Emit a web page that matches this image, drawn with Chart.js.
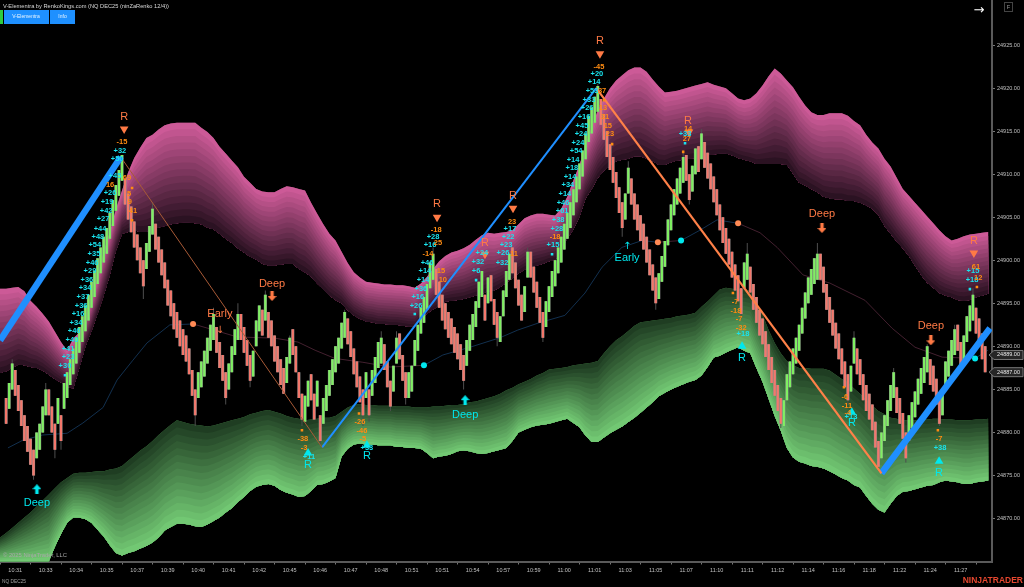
<!DOCTYPE html>
<html><head><meta charset="utf-8">
<style>html,body{margin:0;padding:0;background:#000;overflow:hidden}canvas{display:block}</style>
<script src="https://cdn.jsdelivr.net/npm/chart.js@4"></script>
</head><body><canvas id="c" width="1024" height="587"></canvas>
<script>
// x axis (bar index) tick labels, one every ten bars from bar 5
const timeLabels=["10:31","10:33","10:34","10:35","10:37","10:39","10:40","10:41","10:42","10:45","10:46","10:47","10:48","10:51","10:51","10:54","10:57","10:59","11:00","11:01","11:03","11:05","11:07","11:10","11:11","11:12","11:14","11:16","11:18","11:22","11:24","11:27"];
const priceTicks=[24870,24875,24880,24885,24890,24895,24900,24905,24910,24915,24920,24925];
const lastPrices=[24889,24887];
// Renko closes, first bar is bar 2
const firstBar=2;
const brickPts=3;
const closes=[24881,24885.75,24888,24884.25,24882.5,24880.75,24879,24877.75,24876.25,24875,24880,24881,24883,24885,24882,24880,24878,24884,24879,
24885.75,24887,24888.5,24889.75,24891,24892.25,24893.5,24894.75,24896,24897.5,24898.75,24900.25,24901.5,24902.75,24903.75,24905.5,24907,24908.75,24910.5,24912.25,
24906.5,24904.75,24903.25,24901.5,24900,24898.5,24897,24902,24904,24906,
24901.25,24899.75,24898.25,24896.75,24894.75,24893.5,24892,24891,24890,24889,24888.25,24886.75,24884.25,24882,
24887,24888.25,24889.5,24891,24892.5,24893.75,24889.25,24887.5,24886,24884,24888,24890,24892,24893.75,24890.75,24889.25,24887.75,24886,
24889.5,24893,24894.75,24891.25,24896,24891,24890,24888.25,24887,24885.5,24884.5,24888.75,24891,24889,24887,24884,24881.5,24884.25,24886,24883.75,24881.5,24886,24879,
24884,24885.5,24887.25,24888.5,24890,24891,24892.75,24894,24890.25,24888.75,24886.75,24885.25,24883.5,24882,24887,24882,24887.25,24888.75,24890.5,24891,24887.25,24885.25,24883,24887.75,24891,24888.5,24886,24884,
24887,24887.75,24890.75,24892.5,24894.5,24895.75,24897.25,24899.75,24900.75,24896,24894.5,24893,24892,24891,24890.25,24889.25,24888.5,24887.25,24886,
24890.75,24892.5,24893.75,24895.25,24897.5,24898.75,24893,24898,24895.25,24892.5,24891,24893.5,24896.5,24898.75,24900.75,24898.5,24896.75,24894.75,24893,24897,24901,24898,24896.25,24894.5,24892.75,24891,
24895.25,24897,24898.75,24900,24901.5,24902.75,24904.25,24905.5,24906.75,24908.25,24909.75,24911.25,24912.75,24914.75,24916.75,24917.75,24919,24920.25,
24915.75,24914,24912,24910.5,24909,24907.25,24905.5,24903.75,24907.75,24910.75,24906.5,24904.75,24903.5,24902.25,24901.25,24899.75,24898.25,24896.5,24895,
24898.5,24900.5,24902.25,24904.75,24906.5,24908.25,24909.5,24910.75,24912,24909.25,24907,24911,24913,24910.25,24914.75,
24910.75,24909.5,24908.25,24906.75,24905.25,24903.5,24902,24900.75,24899.5,24898,24896.5,24895.25,24893.75,24899.75,24900.75,
24896.25,24894.25,24892.75,24891.25,24890.25,24888.75,24887.25,24885.75,24884.25,24882.5,24881,
24883.75,24886.75,24888.25,24889.75,24891,24892.5,24894.5,24896.25,24898,24899,24900.25,24900.75,
24897.75,24896.25,24894.25,24892.75,24891.25,24889.75,24888.5,24886.75,24885.25,24883.75,24887.75,24891,
24886.75,24885.5,24883.75,24882.5,24881.5,24880.25,24878.25,24876,24880,24882,24883.75,24885.5,24887,24882.25,24881,24879.25,24877,
24882,24883.5,24884.75,24886.25,24887.5,24888.75,24890,24885.5,24884.75,24883.25,24881,24885,24888.25,24889.5,24890.75,24892,24889.5,24887.5,24891.25,24893.5,24894.75,24896,24891.5,24890.25,24888.5,24887];
// wick tips
const wickBars=[4,11,15,18,20,47,50,64,70,74,78,82,87,95,99,105,113,119,121,125,128,130,133,142,152,163,173,178,196,204,206,215,224,226,230,243,245,256,268,278,280,288,293,297,304,308,313,319];
const wickTips=[24888.5,24874.5,24885.75,24877,24878,24895.5,24906.75,24880.75,24894.5,24883.25,24895,24885.25,24896.5,24891.25,24880.75,24878.5,24894.25,24880.75,24881.25,24891.75,24882.5,24891.75,24883.25,24901.5,24885,24890,24901.5,24890.5,24920.5,24902.75,24911.5,24894.25,24912.75,24906.5,24915.25,24893.25,24902,24880.5,24902,24883.25,24891.75,24875.5,24887.5,24876.5,24890.25,24880.75,24892.5,24896.75];
// bands, one sample every two bars
const upperTop=[24896.7,24896.7,24896.8,24896.9,24896.4,24895.3,24894.6,24893.8,24892.9,24891.7,24890.5,24889.5,24890.9,24891.6,24893.5,24895.4,24898,24901,24903.3,24905.9,24908.1,24910.2,24911.9,24913.1,24914.2,24914.6,24915.2,24915.7,24915.9,24916,24916,24916,24916,24915.4,24914.9,24914.2,24913.2,24912.4,24911.6,24910.8,24909.7,24909,24908.3,24908,24907.9,24907.9,24908.3,24908.6,24908.5,24908.3,24908.1,24906.7,24905.4,24904.2,24903.1,24902.3,24901,24899.7,24898.6,24898,24897.5,24897.4,24897.3,24897.2,24897.2,24897.1,24897.1,24897,24896.8,24897.3,24898.1,24899,24899.9,24900.5,24900.9,24901.1,24901.4,24901.8,24902.4,24902.9,24903.2,24903.1,24903.2,24903.3,24903.5,24904.2,24904.9,24905.2,24905.4,24905.4,24905.3,24905.2,24906,24907.4,24909.3,24911.1,24913.3,24915.5,24917.4,24918.8,24920,24920.9,24921.5,24922.1,24922.4,24922.4,24921.9,24921,24920.2,24919.5,24919.6,24919.7,24919.9,24920.1,24920.3,24920.5,24920.7,24920.4,24920.2,24920,24919.4,24918.8,24918.6,24918.8,24919.4,24920.3,24921.4,24922.3,24921.7,24920.9,24920.1,24919,24918,24917.2,24916.9,24916.9,24917.1,24917.1,24917.1,24916.8,24916.2,24915.7,24914.6,24913.7,24913,24911.8,24910.9,24909.6,24908.3,24907.5,24906.7,24905.9,24905.1,24904.3,24903.5,24902.8,24902.3,24902.5,24902.8,24903,24903.1,24903.2,24903.3];
const upperBottom=[24886.9,24887.1,24887.5,24887.9,24887.8,24887.6,24887.5,24887.2,24886.7,24886.2,24885.8,24885.3,24885.1,24887.5,24890,24891.8,24893.8,24895.9,24898.3,24901.1,24903.1,24903.3,24903.5,24903.3,24903.3,24903.6,24903.8,24904,24904.2,24904.3,24904.4,24904.4,24904.3,24904.2,24903.8,24903.6,24903.1,24902.5,24902,24901.4,24900.9,24900.4,24900.1,24899.6,24899.4,24899.4,24899.5,24899.6,24899.6,24899,24898.6,24898.1,24897.3,24896.6,24895.9,24895.4,24895,24894.2,24893.6,24893.2,24892.9,24892.8,24892.6,24892.6,24892.5,24892.5,24892.4,24892.3,24892.3,24893.1,24893.8,24894.3,24894.7,24895.2,24895.3,24895.4,24895.5,24895.7,24895.9,24896.1,24896.4,24896.5,24896.9,24897.4,24897.9,24898.5,24898.9,24899.2,24899.4,24899.6,24899.9,24900,24901.1,24902.5,24903.6,24905.1,24907.2,24908.3,24909.6,24910.4,24911,24911.5,24911.7,24911.8,24912.1,24912.1,24911.8,24911.5,24911.1,24911.1,24911.4,24911.6,24911.7,24911.8,24911.9,24912.1,24912.2,24912.3,24912.4,24912.4,24912.2,24911.9,24911.7,24911.5,24911.2,24911.2,24911.2,24911.2,24911.2,24911.1,24910.1,24909,24908.7,24908.3,24907.9,24907.4,24907.2,24907.1,24907.1,24906.9,24906.9,24906.7,24906.4,24906,24905.3,24904,24903.1,24902.2,24901.4,24900.5,24899.4,24898.3,24897.4,24896.8,24896.2,24895.9,24895.7,24895.4,24895.3,24895.4,24895.7,24895.9,24896.1];
const lowerTop=[24867.8,24868.3,24868.9,24869.5,24870.1,24870.7,24871.4,24872.1,24872.8,24873.5,24874.2,24874.7,24875.2,24875.3,24875.3,24875.4,24875.5,24875.5,24875.7,24875.8,24876.1,24876.7,24877.3,24877.9,24878.4,24879,24879.7,24880.3,24880.9,24881.4,24881.2,24881,24880.9,24880.8,24880.7,24880.8,24881,24881.2,24881.4,24881.6,24881.8,24882.1,24882.3,24882.5,24882.6,24882.4,24882.2,24881.9,24881.7,24881.6,24881.4,24881.5,24881.6,24881.7,24881.7,24881.9,24882.4,24882.9,24883.2,24883.3,24883.2,24883.2,24883.1,24883.1,24883.1,24883,24883,24883,24882.9,24882.9,24882.9,24883,24883,24883.1,24883.2,24883.2,24883.3,24883.5,24883.6,24883.8,24884,24884.2,24884.5,24884.9,24885.2,24885.6,24885.9,24886.2,24886.6,24886.9,24887.3,24887.4,24887.5,24887.6,24887.8,24887.9,24888,24888.1,24888.3,24889.2,24890,24890.7,24891.2,24891.8,24892.4,24892.8,24892.9,24893,24893.1,24893.2,24893.3,24893.5,24893.6,24893.7,24893.9,24894.6,24895.2,24895.9,24896.6,24896.8,24896.7,24896.6,24896.6,24896.5,24895.1,24893.7,24891.9,24890.4,24889.2,24888.3,24887.8,24887.5,24887.5,24887.4,24887.4,24887.4,24887.2,24886.7,24886.2,24885.8,24885.1,24884.5,24883.8,24883.1,24882.5,24882.1,24881.7,24881.6,24881.4,24881.4,24881.4,24881.5,24881.5,24881.6,24881.6,24881.5,24881.5,24881.4,24881.4,24881.4,24881.5,24881.5,24881.6];
const lowerBottom=[24865,24865,24865,24865,24865,24865,24865,24865,24865,24866.7,24868.2,24869.5,24870.1,24870.1,24869.9,24869.5,24868.7,24867.9,24866.9,24866,24865.7,24866,24866.2,24866.5,24866.8,24867.2,24867.8,24868.6,24869,24869.4,24869.4,24869.3,24869.1,24869,24869.3,24869.7,24870.1,24870.7,24871.2,24871.9,24872.5,24873.2,24873.7,24873.9,24874,24873.8,24873.3,24873,24872.8,24872.5,24872.6,24873.2,24873.9,24874,24874.3,24874.7,24877.2,24878.1,24878.6,24878.7,24878.6,24878.6,24878.5,24878.5,24878.5,24878.3,24878.3,24878.2,24878.2,24878.1,24877.6,24877,24877.2,24877.3,24877.5,24877.8,24877.9,24877.8,24877.6,24877.5,24877.6,24877.8,24878,24878.2,24879,24880,24880.3,24880.6,24880.8,24880.9,24881,24881.2,24881.4,24881.6,24881.1,24880.6,24879.6,24878.9,24878.9,24879.4,24879.9,24880.3,24880.7,24881.2,24881.7,24882.3,24882.9,24883.5,24884.2,24884.6,24885,24885.3,24885.6,24885.9,24886.1,24886.6,24887.6,24888.7,24888.9,24889.3,24889.6,24889.9,24889.5,24889.2,24887.5,24885.9,24883.9,24881.9,24880.2,24878.2,24877.1,24876.6,24876.4,24876.1,24876,24875.8,24875.5,24875.1,24874.7,24874.4,24873.9,24873.6,24872.6,24871.7,24871,24870.7,24871.7,24872.6,24873.1,24873.2,24873.4,24873.6,24873.8,24873.9,24874.2,24874.4,24874.3,24874.2,24874,24874,24874.2,24874.3,24874.4];
// thin moving line
const maBars=[2.6,7.5,14,22,27.2,33.8,38.4,43.6,48.2,55.7,63.3,68.2,77.7,90.2,97.7,103.3,109.8,119,127.9,139,145.2,154.1,163.9,169.8,176.4,185.2,191.8,197.4,203.9,210.5,215.7,223.3,229.5,235.1,242,249.2,254.8,263.3,272.1,283.6,292.5,300,308.9,319.7,323.9];
const maPrices=[24878.2,24879.1,24879.7,24879.9,24881.1,24882.9,24886.1,24888.4,24890.4,24892.5,24892.6,24892.1,24891.1,24890.95,24890.5,24889.55,24888.6,24888.15,24887.6,24887.8,24889,24889.9,24891,24891.9,24892.7,24893.6,24896.2,24899.2,24901.5,24902.3,24902.1,24902.3,24903.5,24904.7,24904.3,24903.2,24901.5,24898.3,24897.35,24895.35,24892.1,24889.9,24888.75,24888.6,24889.55];
const orangeDotBars=[63.3,215.7,242];
const orangeDotPrices=[24892.6,24902.1,24904.3];
const cyanDotBars=[139,223.3,319.7];
const cyanDotPrices=[24887.8,24902.3,24888.6];
// trend legs
const legStartBars=[0,39.6,105.6,195.5,289];
const legStartPrices=[24890.7,24912,24878.25,24920,24875.25];
const legEndBars=[39.6,105.6,195.5,289,324.6];
const legEndPrices=[24912,24878.25,24920,24875.25,24892.1];
// signals
const sellTexts=["R","R","R","R","R","R","R","Deep","Deep","Deep","Early"];
const sellBars=[40.7,143.3,159,168.2,196.7,225.6,319.3,89.2,269.5,305.2,72.1];
const sellPrices=[24916.65,24906.5,24902,24907.45,24925.5,24916.2,24902.2,24897.3,24905.35,24892.35,24893.75];
const buyTexts=["Deep","Deep","R","R","R","R","R","Early"];
const buyBars=[12.1,152.5,101,120.3,243.3,279.3,307.9,205.6];
const buyPrices=[24871.75,24882,24876.2,24877.25,24888.6,24881.05,24875.25,24900.25];
const sellTriBars=[40.7,143.3,159,168.2,196.7,225.9,319.3];
const sellTriPrices=[24915.25,24905,24900.7,24906.05,24924,24914.9,24900.85];
const buyTriBars=[101,120.3,243.3,279.3,307.9];
const buyTriPrices=[24877.6,24878.5,24890,24882.35,24876.65];
const sellArrowBars=[89.2,269.5,305.2];
const sellArrowPrices=[24895.85,24903.75,24890.7];
const buyArrowBars=[12.1,152.5];
const buyArrowPrices=[24873.4,24883.75];
const thinArrowBars=[72.1,205.6];
const thinArrowPrices=[24891.9,24901.6];
const thinArrowTexts=["↓","↑"];
// small counters
const cyanTexts=["+32","+50","+45","+26","+19","+42","+27","+44","+48","+54","+35","+46","+29","+36","+34","+37","+36","+16","+34","+46","+40","+41","+23","+30","+28","+16","+46","+14","+14","+36","+16","+26","+17","+22","+23","+26","+32","+24","+32","+6","+20","+14","+53","+33","+26","+16","+45","+24","+24","+54","+14","+18","+14","+34","+14","+46","+61","+38","+28","+15","+33","+11","+33","+18","+13","+38","+15","+18"];
const cyanBars=[39.3,38.4,37.7,36.1,35.1,34.8,33.8,32.8,32.1,31.1,30.8,30.2,29.5,28.5,27.9,27.2,26.6,25.6,24.9,24.3,23.6,22.3,22.3,21.3,142,141,140,139.3,138.7,138,137,136.4,167.2,166.6,165.9,164.9,164.6,158,156.7,156.1,195.7,194.8,194.1,193.1,192.5,191.5,190.8,190.5,189.5,188.9,187.9,187.5,186.9,186.2,185.2,184.6,184.3,183,182.6,181.3,224.6,101.3,120.3,243.6,279,308.2,319,318.7];
const cyanPrices=[24912.7,24911.8,24909.8,24907.8,24906.8,24905.7,24904.8,24903.7,24902.7,24901.8,24900.7,24899.7,24898.8,24897.7,24896.8,24895.7,24894.7,24893.8,24892.7,24891.8,24890.7,24889.7,24888.8,24887.7,24902.7,24901.8,24899.7,24898.8,24897.7,24896.65,24895.7,24894.7,24903.7,24902.7,24901.8,24900.8,24899.7,24900.8,24899.8,24898.8,24921.65,24920.7,24919.7,24918.6,24917.7,24916.65,24915.6,24914.7,24913.6,24912.7,24911.65,24910.7,24909.7,24908.75,24907.7,24906.65,24905.7,24904.7,24903.6,24901.75,24914.65,24877.1,24878.15,24891.5,24881.75,24878.15,24898.75,24897.7];
const orangeTexts=["-15","69","16","5","9","41","-18","25","-14","15","10","23","11","-45","37","13","31","15","23","-18","14","27","-38","-3","-26","-46","-5","-7","-18","-7","-32","-6","-11","-4","-7","61","12"];
const orangeBars=[40,41.6,36.1,42.3,42.6,43.6,143,143.6,140.3,144.6,145.2,167.9,168.5,196.4,197.4,197.7,198.4,199.3,200,182,225.6,225.2,99.3,99.7,118,118.7,119,241,241.3,242.3,243,277,277.7,278,307.9,320,320.7];
const orangePrices=[24913.75,24909.55,24908.75,24907.7,24906.75,24905.7,24903.5,24902,24900.7,24898.75,24897.7,24904.45,24900.7,24922.45,24919.65,24917.7,24916.65,24915.6,24914.65,24902.7,24915.25,24914.1,24879.2,24878.15,24881.2,24880.15,24879.2,24895.15,24894.1,24893.15,24892.1,24884.1,24883.05,24882.25,24879.2,24899.2,24897.9];
const cyanSpeckBars=[21.3,136,156.1,181,224.6,318];
const cyanSpeckPrices=[24886.65,24893.75,24897.7,24900.7,24913.6,24896.65];
const orangeSpeckBars=[43.3,43.3,99,117.7,240.3,276.7,307.5,320.3,224,198,200.7];
const orangeSpeckPrices=[24908.4,24904.65,24880.25,24882.2,24896.2,24885.25,24880.25,24896.9,24912.6,24918.6,24913.5];

const bandBars=upperTop.map((_,k)=>k*2);
const zip=(a,b)=>a.map((v,k)=>({x:v,y:b[k]}));
const barIndex=k=>k+firstBar;
const isUp=k=>k===0?false:closes[k]>closes[k-1];
const bodies=closes.map((c,k)=>({x:barIndex(k),y:[c,isUp(k)?c-brickPts:c+brickPts]}));
const wicks=wickBars.map((b,k)=>({x:b,y:[closes[b-firstBar],wickTips[k]]}));

const mix=(a,b,t)=>`rgb(${a.map((v,i)=>Math.round(v+(b[i]-v)*t)).join(',')})`;
function arrowImg(up,color){
  const cv=document.createElement('canvas');cv.width=9;cv.height=10;const x=cv.getContext('2d');x.fillStyle=color;
  if(!up){x.translate(0,10);x.scale(1,-1);}
  x.beginPath();x.moveTo(4.5,0);x.lineTo(9,5);x.lineTo(6.2,5);x.lineTo(6.2,10);x.lineTo(2.8,10);x.lineTo(2.8,5);x.lineTo(0,5);x.closePath();x.fill();return cv;
}
const ORANGE='#ff7a45', CYAN='#00e8ee', NUM_O='#ff8c12', NUM_C='#19e3ee', BLUE='#1f8fff';
const edge=(vals,fillTarget,mid)=>({type:'line',data:zip(bandBars,vals),borderWidth:0,pointRadius:0,fill:fillTarget,backgroundColor:mid,order:20});
const legStyles=[[BLUE,6.5],['#a85a36',1],[BLUE,2],['#ff8148',2.2],[BLUE,6.5]];
const legs=legStartBars.map((b,k)=>({type:'line',data:[{x:b,y:legStartPrices[k]},{x:legEndBars[k],y:legEndPrices[k]}],borderColor:legStyles[k][0],borderWidth:legStyles[k][1],pointRadius:0,order:3}));
const dots=(bars,prices,color,r,style,rot)=>({type:'scatter',data:zip(bars,prices),pointStyle:style||'circle',rotation:rot||0,pointRadius:r,backgroundColor:color,borderWidth:0,order:1});

// Colour contours of each band: painted between its two edge series, after the band's own fill.
const bandShades={0:[upperTop,upperBottom,[204,90,151],[43,18,34]],2:[lowerTop,lowerBottom,[31,61,34],[114,200,115]]};
const shadePlugin={id:'bandShade',afterDatasetDraw(ch,args){
  const b=bandShades[args.index]; if(!b) return;
  const [top,bot,from,to]=b, {ctx,scales:{x,y},chartArea:a}=ch, n=15;
  ctx.save();ctx.beginPath();ctx.rect(a.left,a.top,a.width,a.height);ctx.clip();
  for(let k=0;k<n;k++){
    ctx.beginPath();
    bandBars.forEach((bar,i)=>{const yt=y.getPixelForValue(top[i]),yb=y.getPixelForValue(bot[i]);ctx.lineTo(x.getPixelForValue(bar),yt+(yb-yt)*k/n);});
    for(let i=bandBars.length-1;i>=0;i--) ctx.lineTo(x.getPixelForValue(bandBars[i]),y.getPixelForValue(bot[i]));
    ctx.closePath();ctx.fillStyle=mix(from,to,k/(n-1));ctx.fill();
  }
  ctx.restore();
}};

const chromePlugin={id:'chrome',afterDraw(ch){
  const {ctx,scales:{x,y}}=ch;
  const txt=(t,px,py,font,col,al)=>{ctx.font=font;ctx.fillStyle=col;ctx.textAlign=al||'center';ctx.textBaseline='middle';ctx.fillText(t,px,py);};
  const at=(texts,bars,prices,font,col)=>texts.forEach((t,k)=>txt(t,x.getPixelForValue(bars[k]),y.getPixelForValue(prices[k]),font,col));
  at(cyanTexts,cyanBars,cyanPrices,'bold 7.5px "Liberation Sans"',NUM_C);
  at(orangeTexts,orangeBars,orangePrices,'bold 7.5px "Liberation Sans"',NUM_O);
  at(sellTexts,sellBars,sellPrices,'11px "Liberation Sans"',ORANGE);
  at(buyTexts,buyBars,buyPrices,'11px "Liberation Sans"',CYAN);
  thinArrowTexts.forEach((t,k)=>txt(t,x.getPixelForValue(thinArrowBars[k]),y.getPixelForValue(thinArrowPrices[k]),'10px "DejaVu Sans"',k?CYAN:ORANGE));
  // chrome
  txt('V-Elementra by RenkoKings.com (NQ DEC25 (ninZaRenko 12/4))',3,6,'5.7px "Liberation Sans"','#d8d8d8','left');
  ctx.fillStyle='#2ecc40';ctx.fillRect(0,10,3,14);
  ctx.fillStyle='#1e90ff';ctx.fillRect(4,10,45,14);ctx.fillRect(50,10,25,14);
  txt('V-Elementra',26,17,'5px "Liberation Sans"','#e8f4ff');
  txt('Info',62.5,17,'5px "Liberation Sans"','#e8f4ff');
  txt('→',979,11,'13px "DejaVu Sans"','#ffffff');
  ctx.strokeStyle='#444';ctx.lineWidth=1;ctx.strokeRect(1004.5,2.5,8,9);
  txt('F',1008.5,7,'5.5px "Liberation Sans"','#999');
  txt('© 2025 NinjaTrader, LLC',3,555,'5.8px "Liberation Sans"','#a8a8a8','left');
  txt('NQ DEC25',2,582,'4.8px "Liberation Sans"','#a0a0a0','left');
  txt('NINJATRADER',1023,581,'bold 8.5px "Liberation Sans"','#e5472f','right');
  // last price badges
  lastPrices.forEach(p=>{const py=y.getPixelForValue(p);
    ctx.beginPath();ctx.moveTo(989,py);ctx.lineTo(994,py-4.5);ctx.lineTo(1023,py-4.5);ctx.lineTo(1023,py+4.5);ctx.lineTo(994,py+4.5);ctx.closePath();
    ctx.fillStyle='#262626';ctx.fill();ctx.strokeStyle='#777';ctx.lineWidth=1;ctx.stroke();
    txt(p.toFixed(2),1008.5,py,'5.5px "Liberation Sans"','#e8e8e8');});
}};

new Chart(document.getElementById('c'),{
  data:{datasets:[
    edge(upperTop,'+1','#8a3a66'),
    edge(upperBottom,false,'#8a3a66'),
    edge(lowerTop,'+1','#4a8a4c'),
    edge(lowerBottom,false,'#4a8a4c'),
    {type:'line',data:zip(maBars,maPrices),borderWidth:1,pointRadius:0,order:9,borderColor:'#12304f',
      segment:{borderColor:c=>{const b=c.p0.parsed.x;return (b>=63&&b<139)||(b>=215&&b<223)||(b>=242&&b<319)?'#43202f':'#12304f';}}},
    {type:'bar',data:wicks,barThickness:1,grouped:false,backgroundColor:'#4e4e4e',inflateAmount:0,order:8},
    {type:'bar',data:bodies,barThickness:3.05,grouped:false,backgroundColor:'#8b8b8b',inflateAmount:0,order:7},
    {type:'bar',data:bodies,barThickness:2.2,grouped:false,backgroundColor:c=>isUp(c.dataIndex)?'#7ff062':'#f4776b',inflateAmount:0,order:6},
    ...legs,
    dots(orangeDotBars,orangeDotPrices,'#ff8a55',3),
    dots(cyanDotBars,cyanDotPrices,'#00e8ee',3),
    dots(cyanSpeckBars,cyanSpeckPrices,'#19e3ee',1.8,'rect'),
    dots(orangeSpeckBars,orangeSpeckPrices,'#ff8c12',1.8,'rect'),
    dots(sellTriBars,sellTriPrices,ORANGE,5,'triangle',180),
    dots(buyTriBars,buyTriPrices,CYAN,5,'triangle',0),
    dots(sellArrowBars,sellArrowPrices,ORANGE,5,arrowImg(false,ORANGE)),
    dots(buyArrowBars,buyArrowPrices,CYAN,5,arrowImg(true,CYAN)),
  ]},
  options:{responsive:false,animation:false,devicePixelRatio:1,
    layout:{padding:0,autoPadding:false},
    plugins:{legend:{display:false},tooltip:{enabled:false},filler:{propagate:false}},
    scales:{
      x:{type:'linear',offset:false,min:0,max:992/3.05,
        afterFit:s=>{s.height=25.5;s.paddingLeft=0;s.paddingRight=0;},
        afterBuildTicks:s=>{s.ticks=timeLabels.map((_,k)=>({value:5+10*k}));},
        grid:{drawOnChartArea:false,tickLength:3,tickColor:'#777'},
        border:{color:'#5a5a5a',width:2},
        ticks:{autoSkip:false,maxRotation:0,padding:3,color:'#c0c0c0',font:{family:'"Liberation Sans"',size:5.5},callback:(v,k)=>timeLabels[k]}},
      y:{type:'linear',position:'right',min:24865,max:24930.25,
        afterFit:s=>{s.width=32;s.paddingTop=0;s.paddingBottom=0;},
        afterBuildTicks:s=>{s.ticks=priceTicks.map(v=>({value:v}));},
        grid:{drawOnChartArea:false,tickLength:3,tickColor:'#777'},
        border:{color:'#5a5a5a',width:2},
        ticks:{autoSkip:false,padding:2,color:'#c0c0c0',font:{family:'"Liberation Sans"',size:5.5},callback:v=>v.toFixed(2)}}
    }},
  plugins:[shadePlugin,chromePlugin]
});
</script></body></html>
